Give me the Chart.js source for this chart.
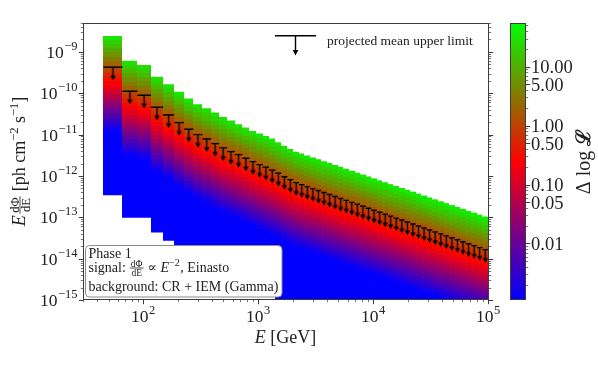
<!DOCTYPE html>
<html>
<head>
<meta charset="utf-8">
<script src="https://cdn.jsdelivr.net/npm/chart.js@4.4.1/dist/chart.umd.min.js"></script>
<style>
  html, body { margin: 0; padding: 0; background: #fff; }
  #wrap { width: 598px; height: 370px; }
</style>
</head>
<body>
<div id="wrap"><canvas id="chart" width="598" height="370"></canvas></div>
<script>
// energy bin edges [GeV]
const binEdges = [45.2, 66.1, 89.2, 116.7, 149.3, 186.1, 227.2, 273.8, 328, 390, 458, 537.6, 627, 730, 840, 967,
    1099, 1246, 1414, 1594, 1798, 2028, 2267, 2534, 2833, 3167, 3539, 3957, 4422, 4943, 5525, 6176, 6904, 7718,
    8627, 9643, 10780, 12050, 13470, 15050, 16830, 18810, 21030, 23500, 26270, 29380, 32830, 36700, 41020,
    45850, 51260, 57300, 64040, 71580, 80020, 89460, 100000];

// projected mean upper limit per bin [ph cm^-2 s^-1]
const upperLimits = [4.27e-10, 1.12e-10, 8.98e-11, 4.59e-11, 2.99e-11, 1.95e-11, 1.35e-11, 1.0e-11, 7.86e-12,
    6.05e-12, 4.77e-12, 3.87e-12, 3.28e-12, 2.68e-12, 2.22e-12, 1.88e-12, 1.62e-12, 1.37e-12, 1.16e-12, 9.6e-13,
    8.14e-13, 6.89e-13, 6.17e-13, 5.53e-13, 4.95e-13, 4.44e-13, 3.98e-13, 3.56e-13, 3.19e-13, 2.86e-13, 2.56e-13,
    2.30e-13, 2.06e-13, 1.85e-13, 1.65e-13, 1.48e-13, 1.33e-13, 1.19e-13, 1.07e-13, 9.56e-14, 8.57e-14, 7.68e-14,
    6.88e-14, 6.17e-14, 5.53e-14, 4.95e-14, 4.44e-14, 3.98e-14, 3.56e-14, 3.19e-14, 2.86e-14, 2.56e-14, 2.30e-14,
    2.06e-14, 1.85e-14, 1.65e-14];

// flux range of the likelihood scan per bin
const bandTop = [2.44e-9, 6.07e-10, 4.85e-10, 2.49e-10, 1.66e-10, 1.08e-10, 7.43e-11, 5.43e-11, 4.35e-11, 3.40e-11,
    2.68e-11, 2.18e-11, 1.78e-11, 1.48e-11, 1.23e-11, 1.06e-11, 9.29e-12, 8.0e-12, 6.55e-12, 5.41e-12, 4.50e-12,
    3.87e-12, 3.48e-12, 3.13e-12, 2.81e-12, 2.53e-12, 2.28e-12, 2.05e-12, 1.84e-12, 1.66e-12, 1.49e-12, 1.34e-12,
    1.20e-12, 1.08e-12, 9.73e-13, 8.74e-13, 7.85e-13, 7.07e-13, 6.35e-13, 5.71e-13, 5.14e-13, 4.62e-13, 4.16e-13,
    3.74e-13, 3.36e-13, 3.02e-13, 2.72e-13, 2.44e-13, 2.20e-13, 1.97e-13, 1.78e-13, 1.60e-13, 1.43e-13, 1.29e-13,
    1.16e-13, 1.04e-13];
const bandBottom = [3.4e-13, 9.8e-14, 9.8e-14, 4.3e-14, 2.7e-14, 1.8e-14, 1.2e-14, 9.1e-15, 7.2e-15, 5.5e-15,
    4.3e-15, 3.5e-15, 3.0e-15, 2.4e-15, 2.0e-15, 1.7e-15, 1.5e-15, 1.25e-15, 1.06e-15, 1e-15, 1e-15, 1e-15, 1e-15,
    1e-15, 1e-15, 1e-15, 1e-15, 1e-15, 1e-15, 1e-15, 1e-15, 1e-15, 1e-15, 1e-15, 1e-15, 1e-15, 1e-15, 1e-15, 1e-15,
    1e-15, 1e-15, 1e-15, 1e-15, 1e-15, 1e-15, 1e-15, 1e-15, 1e-15, 1e-15, 1e-15, 1e-15, 1e-15, 1e-15, 1e-15, 1e-15,
    1e-15];

// Δlog L profile against flux offset from the upper limit (in decades)
const profileDex = [-3.2, -2.0, -1.5, -1.0, -0.5, 0.0, 0.5, 0.85];
const profileDLL = [1e-6, 1.4e-4, 1.4e-3, 0.014, 0.14, 1.35, 13.5, 60];

const yTicks = [1e-15, 1e-14, 1e-13, 1e-12, 1e-11, 1e-10, 1e-9];
const xTicks = [1e2, 1e3, 1e4, 1e5];
const cbTicks = [0.01, 0.05, 0.1, 0.5, 1, 5, 10];
const cbTickLabels = ['0.01', '0.05', '0.10', '0.50', '1.00', '5.00', '10.00'];
const cbMin = 1.1e-3, cbMax = 55;

const SERIF = '"Liberation Serif", "DejaVu Serif", serif';
const AXIS_COLOR = '#3c3c3c';

// blue -> red -> lime colormap
function cmap(t) {
    t = Math.min(1, Math.max(0, t));
    let r, g, b;
    if (t < 0.5) { const s = t / 0.5; r = 255 * s; g = 0; b = 255 * (1 - s); }
    else { const s = (t - 0.5) / 0.5; r = 255 * (1 - s); g = 255 * s; b = 0; }
    return `rgb(${Math.round(r)},${Math.round(g)},${Math.round(b)})`;
}
function normLog(v) {
    return (Math.log10(v) - Math.log10(cbMin)) / (Math.log10(cbMax) - Math.log10(cbMin));
}
function dllAt(d) {
    if (d <= profileDex[0]) return profileDLL[0];
    for (let k = 1; k < profileDex.length; k++) {
        if (d <= profileDex[k]) {
            const f = (d - profileDex[k - 1]) / (profileDex[k] - profileDex[k - 1]);
            return Math.pow(10, Math.log10(profileDLL[k - 1]) + f * (Math.log10(profileDLL[k]) - Math.log10(profileDLL[k - 1])));
        }
    }
    return profileDLL[profileDLL.length - 1];
}

// vertical striped gradient for one bin column
function columnFill(i) {
    return (context) => {
        const chart = context.chart;
        if (!chart.chartArea) return 'rgba(0,0,0,0)';
        const y = chart.scales.y;
        const pTop = y.getPixelForValue(bandTop[i]);
        const pBot = y.getPixelForValue(bandBottom[i]);
        const grad = chart.ctx.createLinearGradient(0, pTop, 0, pBot);
        const lt = Math.log10(bandTop[i]), lb = Math.log10(bandBottom[i]), lu = Math.log10(upperLimits[i]);
        const step = 0.1;
        let rowTop = lt;
        while (rowTop > lb + 1e-9) {
            const rowBot = Math.max(lb, rowTop - step);
            const c = cmap(normLog(dllAt((rowTop + rowBot) / 2 - lu)));
            grad.addColorStop((lt - rowTop) / (lt - lb), c);
            grad.addColorStop((lt - rowBot) / (lt - lb), c);
            rowTop = rowBot;
        }
        return grad;
    };
}

function makeArrow(len, headW, headH) {
    const c = document.createElement('canvas');
    c.width = 9; c.height = len * 2 + 2;
    const g = c.getContext('2d');
    const cx = 4.5, cy = c.height / 2;
    g.strokeStyle = '#000'; g.lineWidth = 1.4;
    g.beginPath(); g.moveTo(cx, cy); g.lineTo(cx, cy + len - headH + 0.5); g.stroke();
    g.fillStyle = '#000';
    g.beginPath();
    g.moveTo(cx - headW / 2, cy + len - headH);
    g.lineTo(cx + headW / 2, cy + len - headH);
    g.lineTo(cx, cy + len);
    g.closePath(); g.fill();
    return c;
}

const datasets = [];
for (let i = 0; i < upperLimits.length; i++) {
    datasets.push({
        type: 'line',
        data: [{ x: binEdges[i], y: bandTop[i] }, { x: binEdges[i + 1], y: bandTop[i] }],
        borderColor: 'rgba(0,0,0,0)',
        borderWidth: 0,
        pointRadius: 0,
        fill: { value: bandBottom[i] },
        backgroundColor: columnFill(i),
        order: 3,
        isColumn: true
    });
}
const ulBars = [];
const ulPoints = [];
for (let i = 0; i < upperLimits.length; i++) {
    ulBars.push({ x: binEdges[i], y: upperLimits[i] }, { x: binEdges[i + 1], y: upperLimits[i] }, { x: binEdges[i + 1], y: null });
    ulPoints.push({ x: Math.sqrt(binEdges[i] * binEdges[i + 1]), y: upperLimits[i] });
}
datasets.push({
    type: 'line', data: ulBars, borderColor: '#000', borderWidth: 1.4, pointRadius: 0,
    fill: false, spanGaps: false, order: 2
});
datasets.push({
    type: 'line', data: ulPoints, showLine: false, pointStyle: makeArrow(13, 5.5, 4.5),
    pointRadius: 4, fill: false, order: 1
});

// text runs helper: plain, superscript and stacked fraction pieces
function runWidth(ctx, runs) {
    let w = 0;
    for (const r of runs) {
        ctx.font = r.font;
        if (r.frac) w += Math.max(ctx.measureText(r.frac[0]).width, ctx.measureText(r.frac[1]).width) + 3;
        else w += ctx.measureText(r.t).width + (r.gap || 0);
    }
    return w;
}
function drawRuns(ctx, runs, x, y) {
    let cx = x;
    for (const r of runs) {
        ctx.font = r.font;
        if (r.frac) {
            const wn = ctx.measureText(r.frac[0]).width, wd = ctx.measureText(r.frac[1]).width;
            const w = Math.max(wn, wd) + 3;
            const ax = y - r.axis;
            ctx.fillText(r.frac[0], cx + (w - wn) / 2, ax - 1.5);
            ctx.fillText(r.frac[1], cx + (w - wd) / 2, ax + r.den);
            ctx.fillRect(cx + 0.5, ax - 0.4, w - 1, 0.8);
            cx += w;
        } else {
            ctx.fillText(r.t, cx, y + (r.dy || 0));
            cx += ctx.measureText(r.t).width + (r.gap || 0);
        }
    }
}
function powRuns(exp, base, sup) {
    const e = exp < 0 ? '\u2212' + (-exp) : String(exp);
    return [{ t: '10', font: `${base}px ${SERIF}`, gap: 0.5 }, { t: e, font: `${sup}px ${SERIF}`, dy: -base * 0.45 }];
}

function logMinor(min, max) {
    const out = [];
    for (let e = Math.floor(Math.log10(min)); e <= Math.ceil(Math.log10(max)); e++) {
        for (let m = 2; m < 10; m++) {
            const v = m * Math.pow(10, e);
            if (v >= min * 0.999 && v <= max * 1.001) out.push(v);
        }
    }
    return out;
}

const decor = {
    id: 'decor',
    // snap column edges to whole pixels so neighbouring fills meet without seams
    afterDatasetsUpdate(chart) {
        chart.data.datasets.forEach((ds, i) => {
            if (!ds.isColumn) return;
            chart.getDatasetMeta(i).data.forEach(p => { p.x = Math.round(p.x); });
        });
    },
    afterDraw(chart) {
        const ctx = chart.ctx;
        const a = chart.chartArea;
        const sx = chart.scales.x, sy = chart.scales.y, sc = chart.scales.c;
        ctx.save();
        ctx.textBaseline = 'alphabetic';

        // info box (bottom left)
        ctx.fillStyle = '#fff';
        ctx.strokeStyle = '#8a8a8a';
        ctx.lineWidth = 1;
        ctx.beginPath();
        ctx.roundRect(85.5, 245.5, 196.5, 51.5, 4);
        ctx.fill(); ctx.stroke();
        ctx.fillStyle = '#222';
        const f14 = `14px ${SERIF}`;
        drawRuns(ctx, [{ t: 'Phase 1', font: f14 }], 88.5, 257.5);
        drawRuns(ctx, [
            { t: 'signal: ', font: f14 },
            { frac: ['d\u03A6', 'dE'], font: `9.5px ${SERIF}`, axis: 3.5, den: 7.5 },
            { t: ' \u221D ', font: f14 },
            { t: 'E', font: `italic ${f14}` },
            { t: '\u22122', font: `10px ${SERIF}`, dy: -6, gap: 0.5 },
            { t: ', Einasto', font: f14 }
        ], 88.5, 271.5);
        drawRuns(ctx, [{ t: 'background: CR + IEM (Gamma)', font: f14 }], 88.5, 290.5);

        // frame
        ctx.strokeStyle = AXIS_COLOR;
        ctx.lineWidth = 1;
        const L = Math.round(a.left) + 0.5, R = Math.round(a.right) + 0.5;
        const T = Math.round(a.top) + 0.5, B = Math.round(a.bottom) - 0.5;
        ctx.strokeRect(L, T, R - L, B - T);

        // y ticks on left and right, pointing outwards
        const drawYTick = (v, len, w) => {
            const p = Math.round(sy.getPixelForValue(v)) + 0.5;
            ctx.lineWidth = w;
            ctx.beginPath();
            ctx.moveTo(L, p); ctx.lineTo(L - len, p);
            ctx.moveTo(R, p); ctx.lineTo(R + len, p);
            ctx.stroke();
        };
        logMinor(sy.min, sy.max).forEach(v => drawYTick(v, 2.7, 0.7));
        yTicks.forEach(v => drawYTick(v, 4.7, 1));
        // x ticks bottom
        const drawXTick = (v, len, w) => {
            const p = Math.round(sx.getPixelForValue(v)) + 0.5;
            ctx.lineWidth = w;
            ctx.beginPath(); ctx.moveTo(p, B); ctx.lineTo(p, B + len); ctx.stroke();
        };
        logMinor(sx.min, sx.max).forEach(v => drawXTick(v, 2.7, 0.7));
        xTicks.forEach(v => drawXTick(v, 4.7, 1));

        // tick labels
        ctx.fillStyle = '#222';
        yTicks.forEach(v => {
            const runs = powRuns(Math.round(Math.log10(v)), 17.5, 12.5);
            const w = runWidth(ctx, runs);
            drawRuns(ctx, runs, 77.5 - w, sy.getPixelForValue(v) + 6);
        });
        xTicks.forEach(v => {
            const runs = powRuns(Math.round(Math.log10(v)), 17.5, 12.5);
            const w = runWidth(ctx, runs);
            drawRuns(ctx, runs, sx.getPixelForValue(v) - w / 2, 322);
        });

        // axis titles
        const f18 = `18px ${SERIF}`;
        const xt = [{ t: 'E', font: `italic ${f18}` }, { t: ' [GeV]', font: f18 }];
        drawRuns(ctx, xt, (a.left + a.right) / 2 - runWidth(ctx, xt) / 2, 343);

        const yt = [
            { t: 'E', font: `italic ${f18}`, gap: 1 },
            { frac: ['d\u03A6', 'd' + 'E'], font: `12.5px ${SERIF}`, axis: 5, den: 9.5 },
            { t: ' [ph cm', font: f18 },
            { t: '\u22122', font: `12.5px ${SERIF}`, dy: -7.5 },
            { t: ' s', font: f18 },
            { t: '\u22121', font: `12.5px ${SERIF}`, dy: -7.5 },
            { t: ']', font: f18 }
        ];
        const ytw = runWidth(ctx, yt);
        ctx.save();
        ctx.translate(25, (a.top + a.bottom) / 2 + ytw / 2);
        ctx.rotate(-Math.PI / 2);
        drawRuns(ctx, yt, 0, 0);
        ctx.restore();

        // upper limit legend (top right)
        ctx.strokeStyle = '#000';
        ctx.fillStyle = '#000';
        ctx.lineWidth = 1.4;
        ctx.beginPath(); ctx.moveTo(275, 35.7); ctx.lineTo(316, 35.7); ctx.stroke();
        ctx.beginPath(); ctx.moveTo(295.5, 35.7); ctx.lineTo(295.5, 50.5); ctx.stroke();
        ctx.beginPath(); ctx.moveTo(292.7, 50); ctx.lineTo(298.3, 50); ctx.lineTo(295.5, 55.5); ctx.closePath(); ctx.fill();
        ctx.fillStyle = '#222';
        drawRuns(ctx, [{ t: 'projected mean upper limit', font: `13.5px ${SERIF}` }], 327, 45);

        // colorbar
        const cbL = 510, cbR = 525;
        const p0 = sc.getPixelForValue(cbMin), p1 = sc.getPixelForValue(cbMax);
        const grad = ctx.createLinearGradient(0, p0, 0, p1);
        grad.addColorStop(0, cmap(0));
        grad.addColorStop(0.5, cmap(0.5));
        grad.addColorStop(1, cmap(1));
        ctx.fillStyle = grad;
        ctx.fillRect(cbL, p1, cbR - cbL, p0 - p1);
        ctx.strokeStyle = AXIS_COLOR;
        ctx.lineWidth = 1;
        ctx.strokeRect(cbL + 0.5, Math.round(p1) + 0.5, cbR - cbL, Math.round(p0 - p1) - 1);
        const drawCTick = (v, len, w) => {
            const p = Math.round(sc.getPixelForValue(v)) + 0.5;
            ctx.lineWidth = w;
            ctx.beginPath(); ctx.moveTo(cbR + 0.5, p); ctx.lineTo(cbR + 0.5 + len, p); ctx.stroke();
        };
        logMinor(cbMin, cbMax).filter(v => !cbTicks.some(t => Math.abs(t - v) / t < 1e-6)).forEach(v => drawCTick(v, 2.7, 0.7));
        cbTicks.forEach(v => drawCTick(v, 4.7, 1));
        ctx.fillStyle = '#222';
        ctx.font = `18.5px ${SERIF}`;
        cbTicks.forEach((v, k) => {
            ctx.fillText(cbTickLabels[k], 531, sc.getPixelForValue(v) + 6.5);
        });
        const ct = [{ t: '\u0394 log ', font: `20px ${SERIF}` }, { t: '\u2112', font: `bold 20px ${SERIF}` }];
        const ctw = runWidth(ctx, ct);
        ctx.save();
        ctx.translate(590, (a.top + a.bottom) / 2 + ctw / 2);
        ctx.rotate(-Math.PI / 2);
        drawRuns(ctx, ct, 0, 0);
        ctx.restore();

        ctx.restore();
    }
};

new Chart(document.getElementById('chart'), {
    type: 'line',
    data: { datasets: datasets },
    options: {
        responsive: false,
        animation: false,
        layout: { padding: { left: 83, top: 23, right: 110, bottom: 70 } },
        scales: {
            x: { type: 'logarithmic', min: 30, max: 1e5, display: false },
            y: { type: 'logarithmic', min: 1e-15, max: 5e-9, display: false },
            c: { type: 'logarithmic', axis: 'y', min: cbMin, max: cbMax, display: false }
        },
        plugins: { legend: { display: false }, tooltip: { enabled: false } }
    },
    plugins: [decor]
});
</script>
</body>
</html>
